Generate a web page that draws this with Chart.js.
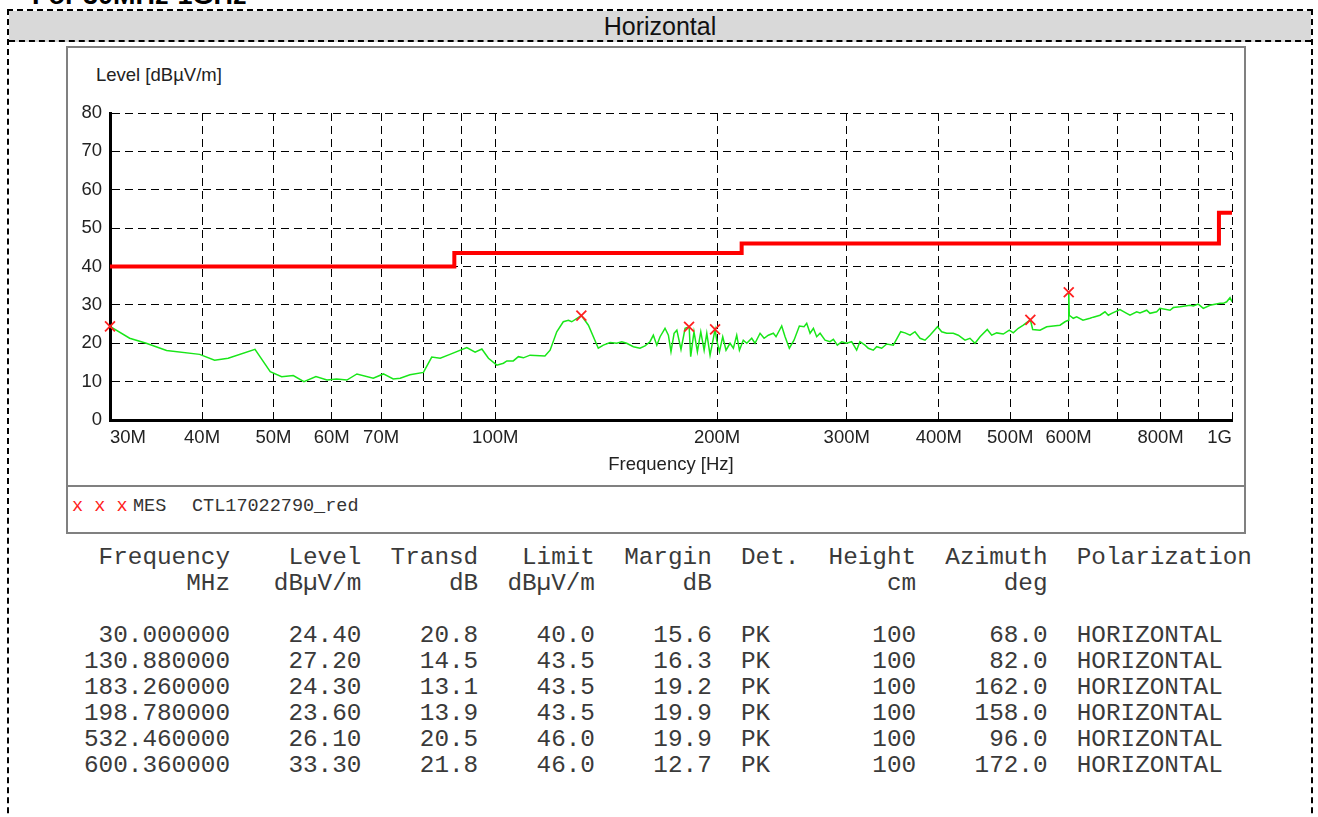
<!DOCTYPE html>
<html>
<head>
<meta charset="utf-8">
<script src="https://cdn.jsdelivr.net/npm/chart.js@4.4.1/dist/chart.umd.min.js"></script>
<style>
    body { margin: 0; background: #fff; width: 1318px; height: 817px; overflow: hidden; position: relative; font-family: 'Liberation Sans', Arial, sans-serif; color: #222; }
    #cut { position: absolute; left: 32px; top: -18px; font: bold 27px/26px 'Liberation Sans', Arial, sans-serif; color: #000; white-space: nowrap; }
    #frame { position: absolute; left: 7px; top: 9px; width: 1302px; height: 900px; border: 2px dashed #000; }
    #head { height: 29px; background: #d9d9d9; border-bottom: 2px dashed #000; text-align: center; font-size: 25px; line-height: 30px; color: #111; }
    #panel { position: absolute; left: 66px; top: 46px; width: 1176px; height: 484px; border: 2px solid #808080; }
    #divider { position: absolute; left: 66px; top: 485px; width: 1180px; height: 2px; background: #808080; }
    #ylabel { position: absolute; left: 96px; top: 64px; font-size: 18.5px; line-height: 22px; }
    #chart { position: absolute; left: 68px; top: 48px; }
    .mono { font-family: 'Liberation Mono', 'Courier New', monospace; }
    #legx { position: absolute; left: 72px; top: 496px; font-size: 18.5px; line-height: 22px; color: #ff2020; white-space: pre; }
    #legmes { position: absolute; left: 133px; top: 496px; font-size: 18.5px; line-height: 22px; white-space: pre; color: #333; }
    #legname { position: absolute; left: 192px; top: 496px; font-size: 18.5px; line-height: 22px; white-space: pre; color: #333; }
    #table { position: absolute; left: 84px; top: 545px; margin: 0; font-size: 24.33px; line-height: 26px; color: #3a3a3a; }
</style>
</head>
<body>
<div id="cut">For 30MHz-1GHz</div>
<div id="frame"><div id="head">Horizontal</div></div>
<div id="panel"></div>
<div id="divider"></div>
<div id="ylabel">Level [dBµV/m]</div>
<canvas id="chart" width="1176" height="437"></canvas>
<div id="legx" class="mono">x x x</div>
<div id="legmes" class="mono">MES</div>
<div id="legname" class="mono">CTL17022790_red</div>
<pre id="table" class="mono"></pre>
<script>
// grid / tick layout of the frequency axis (MHz)
const gridFreq = [30, 40, 50, 60, 70, 80, 90, 100, 200, 300, 400, 500, 600, 700, 800, 900, 1000];
const xTickLabels = ['30M', '40M', '50M', '60M', '70M', '', '', '100M', '200M', '300M', '400M', '500M', '600M', '', '800M', '', '1G'];

// limit line (FCC class B, 3 m)
const limitFreq = [30, 88, 216, 960, 1000];
const limitLevel = [40, 43.5, 46, 54, 54];

const traceFreq = [
    30, 31.9, 33.6, 35.8, 39.7, 41.6, 43.4, 47.2, 49.5, 51.3, 53.2, 55.0, 57.1, 59.1, 60.9, 62.9,
    64.9, 68.3, 70.5, 72.7, 74.3, 76.6, 79.9, 82.0, 84.2, 86.8, 91.5, 93.9, 95.9, 97.9, 100.5,
    102.6, 103.7, 105.8, 107.5, 109.2, 111.5, 116.8, 118.7, 121.2, 123.7, 125.7, 127.0, 130.9,
    133.8, 138.0, 140.2, 143.2, 146.2, 148.5, 150.8, 154.0, 157.2, 159.7, 162.2, 163.9, 165.7,
    167.4, 170.0, 171.8, 173.2, 174.9, 176.4, 178.7, 181.0, 183.3, 184.2, 186.1, 188.1, 190.1,
    192.1, 193.7, 195.7, 198.8, 199.8, 201.5, 203.6, 205.7, 208.3, 210.5, 212.7, 214.5, 217.1,
    219.5, 222.9, 225.2, 228.8, 231.7, 234.8, 238.5, 240.5, 244.8, 247.4, 250.7, 254.4, 258.7,
    262.5, 264.7, 267.5, 270.3, 273.1, 276.0, 280.3, 284.7, 287.7, 291.3, 295.3, 299.9, 304.6,
    309.4, 312.6, 317.6, 320.9, 325.9, 329.4, 334.6, 339.9, 347.0, 355.1, 359.9, 365.6, 371.3,
    377.2, 383.1, 389.1, 398.4, 403.6, 410.0, 418.5, 425.1, 434.1, 440.9, 447.9, 455.0, 465.4,
    471.9, 479.3, 489.3, 498.6, 504.8, 512.8, 520.9, 532.5, 536.4, 548.8, 560.4, 572.1, 584.2,
    593.4, 599.4, 600.4, 601.4, 608.9, 615.4, 627.7, 641.6, 648.2, 662.0, 672.4, 679.4, 686.6,
    704.6, 719.6, 727.0, 742.4, 750.1, 766.0, 773.9, 790.3, 798.5, 823.9, 832.4, 850.0, 877.1,
    886.1, 900.0, 914.2, 933.5, 963.2, 973.2, 983.6, 993.8, 1000
];
const traceLevel = [
    24.4, 21.3, 20.0, 18.1, 17.1, 15.6, 16.1, 18.4, 12.6, 11.3, 11.6, 10.0, 11.3, 10.4, 10.7, 10.4,
    12.0, 10.9, 12.0, 10.7, 10.9, 11.8, 12.4, 16.4, 16.1, 17.1, 18.9, 17.7, 18.5, 16.1, 14.3,
    14.8, 15.4, 15.4, 16.5, 16.2, 16.9, 16.7, 18.2, 23.0, 25.6, 26.0, 25.6, 27.2,
    24.7, 18.7, 19.5, 20.2, 20.0, 20.4, 20.0, 19.1, 18.7, 19.3, 20.4, 22.1, 19.5,
    21.7, 23.9, 22.1, 17.8, 22.6, 23.4, 18.4, 23.9, 24.3, 16.5, 23.0, 17.8, 23.0,
    18.2, 22.6, 16.9, 23.6, 20.8, 17.8, 21.7, 18.2, 20.0, 18.7, 22.1, 18.2, 20.8,
    20.0, 21.3, 20.0, 22.6, 21.3, 22.1, 22.6, 21.7, 24.5, 21.7, 18.7, 20.8, 24.5,
    24.3, 25.2, 22.6, 23.9, 21.7, 22.6, 20.8, 20.4, 21.0, 19.5, 20.4, 20.0, 20.4,
    18.2, 20.4, 19.5, 18.7, 18.2, 19.1, 18.7, 19.8, 19.5, 23.0, 22.7, 22.1, 23.0,
    21.3, 20.8, 22.1, 24.3, 23.0, 22.6, 22.6, 22.1, 20.8, 21.3, 20.0, 21.7, 23.6,
    22.1, 22.7, 22.4, 23.4, 22.7, 23.9, 24.7, 26.1, 23.6, 23.4, 24.3, 24.5, 24.7,
    25.6, 26.0, 33.3, 27.3, 26.5, 26.9, 26.0, 26.5, 26.8, 27.3, 28.2, 27.3, 27.8,
    28.8, 27.8, 27.3, 28.2, 27.9, 28.6, 27.8, 28.2, 29.1, 28.6, 29.3, 29.5, 29.9,
    29.7, 30.2, 29.1, 29.9, 30.4, 30.4, 30.8, 31.9, 30.8
];

// final measurement results
const markerFreq = [30.0, 130.88, 183.26, 198.78, 532.46, 600.36];
const markerLevel = [24.4, 27.2, 24.3, 23.6, 26.1, 33.3];
const transd = [20.8, 14.5, 13.1, 13.9, 20.5, 21.8];
const markerLimit = [40.0, 43.5, 43.5, 43.5, 46.0, 46.0];
const margin = [15.6, 16.3, 19.2, 19.9, 19.9, 12.7];
const detector = ['PK', 'PK', 'PK', 'PK', 'PK', 'PK'];
const height = [100, 100, 100, 100, 100, 100];
const azimuth = [68.0, 82.0, 162.0, 158.0, 96.0, 172.0];
const polarization = ['HORIZONTAL', 'HORIZONTAL', 'HORIZONTAL', 'HORIZONTAL', 'HORIZONTAL', 'HORIZONTAL'];

const toPoints = (xs, ys) => xs.map((x, i) => ({ x: x, y: ys[i] }));

Chart.defaults.font.family = "'Liberation Sans', Arial, sans-serif";
Chart.defaults.font.size = 18.5;
Chart.defaults.color = '#222';

new Chart(document.getElementById('chart'), {
    type: 'line',
    data: {
        datasets: [
            {
                label: 'MES',
                data: toPoints(markerFreq, markerLevel),
                showLine: false,
                pointStyle: 'crossRot',
                pointRadius: 7,
                pointBorderColor: '#ff2020',
                pointBorderWidth: 1.8,
                clip: false
            },
            {
                label: 'Limit',
                data: toPoints(limitFreq, limitLevel),
                stepped: 'before',
                borderColor: '#ff0000',
                borderWidth: 4,
                pointRadius: 0,
                clip: false
            },
            {
                label: 'Trace',
                data: toPoints(traceFreq, traceLevel),
                borderColor: '#19e619',
                borderWidth: 1.5,
                pointRadius: 0
            }
        ]
    },
    options: {
        responsive: false,
        animation: false,
        devicePixelRatio: 1,
        layout: {
            padding: { left: 0, top: 65, right: 12, bottom: 0 }
        },
        plugins: {
            legend: { display: false },
            tooltip: { enabled: false }
        },
        scales: {
            x: {
                type: 'logarithmic',
                min: 30,
                max: 1000,
                afterBuildTicks(scale) {
                    scale.ticks = gridFreq.map(v => ({ value: v }));
                },
                afterFit(scale) {
                    scale.height = 65;
                },
                grid: { color: '#000', lineWidth: 1, drawTicks: false },
                border: { color: '#000', width: 3, dash: [8, 5] },
                ticks: {
                    autoSkip: false,
                    maxRotation: 0,
                    align: 'inner',
                    padding: 7,
                    callback(value) {
                        return xTickLabels[gridFreq.indexOf(value)];
                    }
                },
                title: {
                    display: true,
                    text: 'Frequency [Hz]',
                    padding: { top: 0, bottom: 9 }
                }
            },
            y: {
                min: 0,
                max: 80,
                afterFit(scale) {
                    scale.width = 42;
                },
                grid: { color: '#000', lineWidth: 1, drawTicks: false },
                border: { color: '#000', width: 3, dash: [8, 5] },
                ticks: { stepSize: 10, padding: 8 }
            }
        }
    }
});

// result table in the fixed-width layout of the report
const pad = (s, n) => String(s).padStart(n);
const lines = [
    pad('Frequency', 10) + pad('Level', 9) + pad('Transd', 8) + pad('Limit', 8) + pad('Margin', 8)
        + '  Det.' + pad('Height', 8) + pad('Azimuth', 9) + '  Polarization',
    pad('MHz', 10) + pad('dBµV/m', 9) + pad('dB', 8) + pad('dBµV/m', 8) + pad('dB', 8)
        + '      ' + pad('cm', 8) + pad('deg', 9),
    ''
];
markerFreq.forEach((f, i) => {
    lines.push(
        pad(f.toFixed(6), 10) + pad(markerLevel[i].toFixed(2), 9) + pad(transd[i].toFixed(1), 8)
        + pad(markerLimit[i].toFixed(1), 8) + pad(margin[i].toFixed(1), 8)
        + '  ' + detector[i] + '  ' + pad(height[i], 8) + pad(azimuth[i].toFixed(1), 9)
        + '  ' + polarization[i]
    );
});
document.getElementById('table').textContent = lines.join('\n');
</script>
</body>
</html>
